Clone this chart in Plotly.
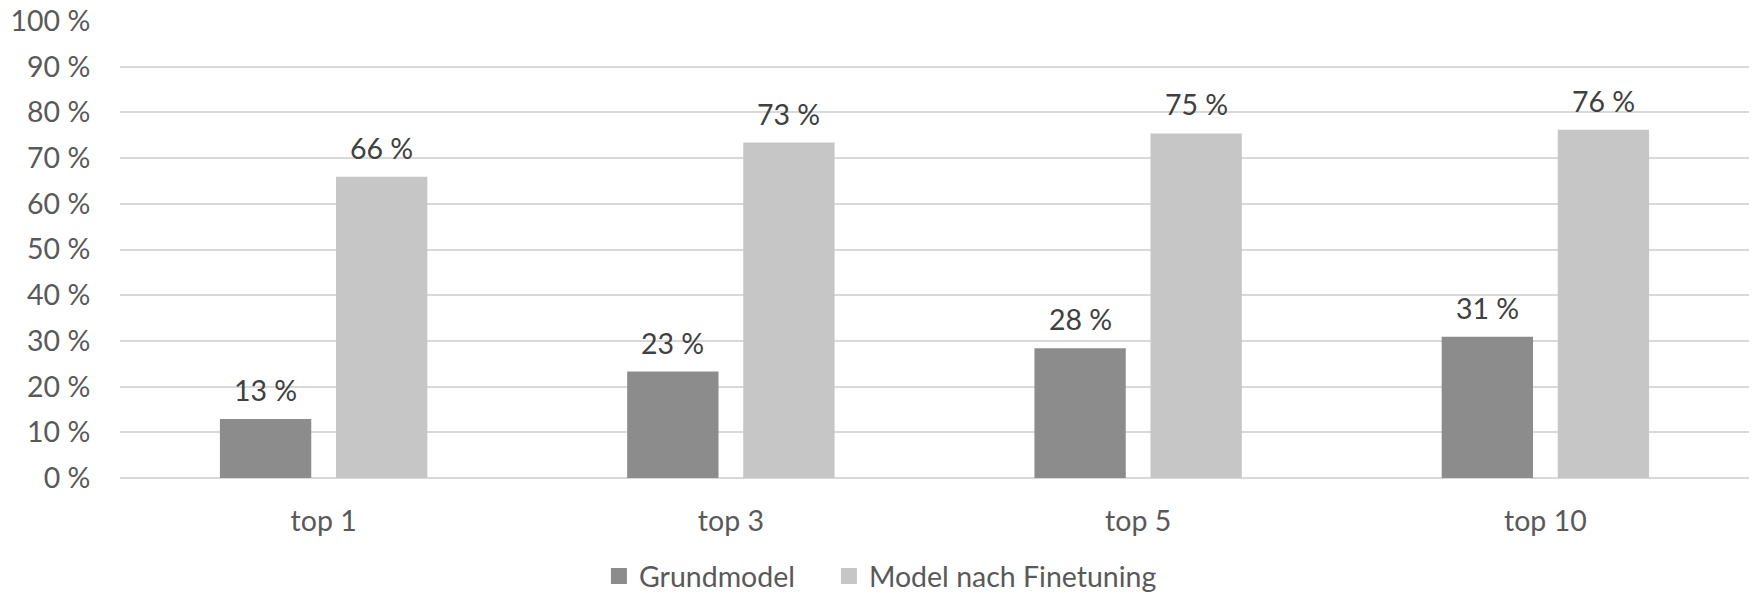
import plotly.graph_objects as go

# Retrieval accuracy per cut-off, before and after fine-tuning (percent)
categories = ["top 1", "top 3", "top 5", "top 10"]
base_model = [12.9, 23.3, 28.4, 30.9]
finetuned_model = [65.9, 73.4, 75.4, 76.2]
series_names = ["Grundmodel", "Model nach Finetuning"]
y_ticks = [0, 10, 20, 30, 40, 50, 60, 70, 80, 90, 100]
y_tick_labels = [f"{v} %" for v in y_ticks]

FONT = "Lato, 'Open Sans', sans-serif"
FS = 28.5
DARK = "#8c8c8c"
LIGHT = "#c6c6c7"
series = list(zip(series_names, [base_model, finetuned_model], [DARK, LIGHT]))

fig = go.Figure()
for name, values, color in series:
    fig.add_trace(go.Bar(
        name=name, x=categories, y=values, showlegend=False,
        marker=dict(color=color, line=dict(width=0)),
        hoverinfo="skip",
    ))

# Legend entries with larger square swatches
for (name, _, color), lw in zip(series, [185, 290]):
    fig.add_trace(go.Scatter(
        name=name, x=[None], y=[None], mode="markers",
        marker=dict(symbol="square", size=17, color=color),
        legendwidth=lw, hoverinfo="skip",
    ))

# Value labels above each bar, offset to the bar's slot within the group
slot_px = 58
for shift, (_, values, _) in zip([-slot_px, slot_px], series):
    for cat, v in zip(categories, values):
        fig.add_annotation(
            x=cat, y=v, xref="x", yref="y",
            text=f"{v:.0f} %", showarrow=False,
            xshift=shift, yshift=10, yanchor="bottom",
            font=dict(family=FONT, size=FS, color="#404040"),
        )

fig.update_layout(
    width=1754, height=596,
    margin=dict(l=120, r=5, t=21, b=118, autoexpand=False),
    paper_bgcolor="white", plot_bgcolor="white",
    barmode="group", bargap=0.43, bargroupgap=0.213,
    font=dict(family=FONT, size=FS, color="#595959"),
    showlegend=True,
    legend=dict(
        orientation="h", x=0.294, xanchor="left", y=-0.1597, yanchor="top",
        maxheight=120,
        font=dict(family=FONT, size=FS, color="#595959"),
        itemsizing="trace",
        bgcolor="rgba(0,0,0,0)",
    ),
)
fig.update_xaxes(
    showgrid=False, showline=False, zeroline=False,
    ticks="outside", ticklen=18, tickcolor="rgba(0,0,0,0)",
    tickfont=dict(family=FONT, size=FS, color="#595959"),
)
fig.update_yaxes(
    range=[0, 100], tickvals=y_ticks, ticktext=y_tick_labels,
    showgrid=True, gridcolor="#d9d9d9", gridwidth=2,
    zeroline=True, zerolinecolor="#d9d9d9", zerolinewidth=2,
    showline=False,
    ticks="outside", ticklen=23, tickcolor="rgba(0,0,0,0)",
    tickfont=dict(family=FONT, size=FS, color="#595959"),
)

fig.write_html("out.html")
